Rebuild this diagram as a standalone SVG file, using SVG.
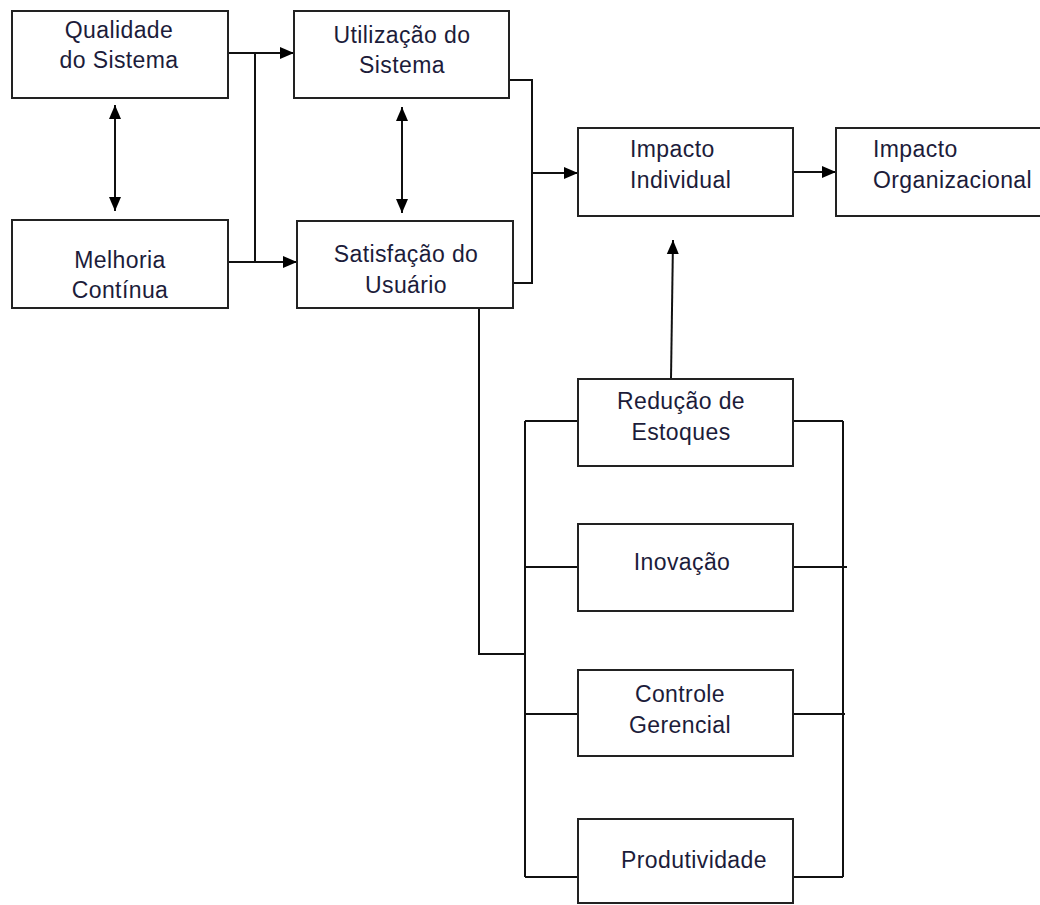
<svg xmlns="http://www.w3.org/2000/svg" width="1040" height="905" viewBox="0 0 1040 905">
<defs>
<marker id="arr" markerUnits="userSpaceOnUse" markerWidth="16" markerHeight="16" refX="14" refY="8" orient="auto-start-reverse">
<path d="M0,2 L14,8 L0,14 z" fill="#000"/>
</marker>
<style>
.box{fill:#fff;stroke:#222;stroke-width:2}
.t{font-family:"Liberation Sans",Arial,sans-serif;font-size:23px;letter-spacing:0.4px;fill:#1c1c3a}
.c{text-anchor:middle}
.ln{fill:none;stroke:#111;stroke-width:2}
</style>
</defs>
<rect width="1040" height="905" fill="#fff"/>
<g id="connectors">
<line class="ln" x1="115" y1="105" x2="115" y2="211" marker-start="url(#arr)" marker-end="url(#arr)"/>
<line class="ln" x1="402" y1="107" x2="402" y2="213" marker-start="url(#arr)" marker-end="url(#arr)"/>
<line class="ln" x1="229" y1="53" x2="294" y2="53" marker-end="url(#arr)"/>
<line class="ln" x1="229" y1="262" x2="297" y2="262" marker-end="url(#arr)"/>
<line class="ln" x1="255" y1="53" x2="255" y2="262"/>
<polyline class="ln" points="509,80 532,80 532,283 510,283"/>
<line class="ln" x1="532" y1="173" x2="578" y2="173" marker-end="url(#arr)"/>
<line class="ln" x1="793" y1="172" x2="836" y2="172" marker-end="url(#arr)"/>
<line class="ln" x1="671" y1="379" x2="673" y2="240" stroke="#444" marker-end="url(#arr)"/>
<polyline class="ln" points="479,305 479,654 525,654"/>
<line class="ln" x1="525" y1="421" x2="525" y2="877"/>
<line class="ln" x1="843" y1="421" x2="843" y2="877"/>
<line class="ln" x1="525" y1="421" x2="578" y2="421"/>
<line class="ln" x1="793" y1="421" x2="843" y2="421"/>
<line class="ln" x1="525" y1="567" x2="578" y2="567"/>
<line class="ln" x1="793" y1="567" x2="847" y2="567"/>
<line class="ln" x1="525" y1="714" x2="578" y2="714"/>
<line class="ln" x1="793" y1="714" x2="845" y2="714"/>
<line class="ln" x1="525" y1="877" x2="578" y2="877"/>
<line class="ln" x1="793" y1="877" x2="843" y2="877"/>
</g>
<g id="qualidade">
<rect class="box" x="12" y="11" width="216" height="87"/>
<text class="t c" x="119" y="38">Qualidade</text>
<text class="t c" x="119" y="68">do Sistema</text>
</g>
<g id="melhoria">
<rect class="box" x="12" y="220" width="216" height="88"/>
<text class="t c" x="120" y="268">Melhoria</text>
<text class="t c" x="120" y="298">Contínua</text>
</g>
<g id="utilizacao">
<rect class="box" x="294" y="11" width="215" height="87"/>
<text class="t c" x="402" y="43">Utilização do</text>
<text class="t c" x="402" y="73">Sistema</text>
</g>
<g id="satisfacao">
<rect class="box" x="297" y="221" width="216" height="87"/>
<text class="t c" x="406" y="262">Satisfação do</text>
<text class="t c" x="406" y="293">Usuário</text>
</g>
<g id="impacto-individual">
<rect class="box" x="578" y="128" width="215" height="88"/>
<text class="t" x="630" y="157">Impacto</text>
<text class="t" x="630" y="188">Individual</text>
</g>
<g id="impacto-organizacional">
<rect class="box" x="836" y="128" width="215" height="88"/>
<text class="t" x="873" y="157">Impacto</text>
<text class="t" x="873" y="188">Organizacional</text>
</g>
<g id="reducao">
<rect class="box" x="578" y="379" width="215" height="87"/>
<text class="t c" x="681" y="409">Redução de</text>
<text class="t c" x="681" y="440">Estoques</text>
</g>
<g id="inovacao">
<rect class="box" x="578" y="524" width="215" height="87"/>
<text class="t c" x="682" y="570">Inovação</text>
</g>
<g id="controle">
<rect class="box" x="578" y="670" width="215" height="86"/>
<text class="t c" x="680" y="702">Controle</text>
<text class="t c" x="680" y="733">Gerencial</text>
</g>
<g id="produtividade">
<rect class="box" x="578" y="819" width="215" height="84"/>
<text class="t c" x="694" y="868">Produtividade</text>
</g>
</svg>
